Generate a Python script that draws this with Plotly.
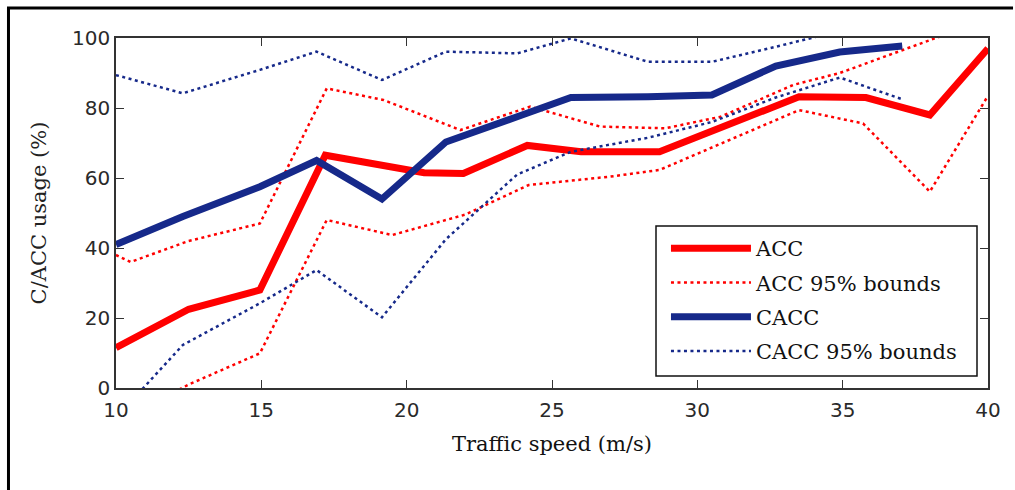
import plotly.graph_objects as go

# ACC: mean usage and 95% bounds per traffic speed bin
acc_speed = [10, 12.5, 14.95, 17.2, 20.6, 21.95, 24.15, 26.0, 28.7, 33.5, 35.8, 38.0, 40.0]
acc_mean = [11.5, 22.5, 28.0, 66.5, 61.5, 61.3, 69.3, 67.5, 67.5, 83.2, 83.0, 78.0, 97.0]

acc_upper_speed = [10, 10.5, 12.5, 14.95, 17.25, 19.2, 21.85, 24.25, 26.65, 28.9, 30.8, 33.3, 34.9, 38.2, 40.0]
acc_upper = [38.0, 36.0, 42.0, 47.0, 85.6, 82.3, 73.7, 80.4, 74.7, 74.2, 77.5, 86.6, 90.0, 100.0, 105.0]

acc_lower_speed = [10, 12.5, 14.95, 17.25, 19.5, 22.0, 24.2, 27.0, 28.7, 33.5, 35.7, 38.0, 40.0]
acc_lower = [-10.0, 1.0, 9.9, 48.0, 43.7, 49.5, 58.0, 60.4, 62.3, 79.4, 75.6, 56.1, 83.5]

# CACC: mean usage and 95% bounds
cacc_speed = [10, 12.3, 14.95, 16.9, 19.15, 21.35, 23.8, 25.65, 28.3, 30.5, 32.7, 34.9, 37.05]
cacc_mean = [41.0, 49.0, 57.5, 65.0, 54.0, 70.3, 77.5, 83.0, 83.2, 83.7, 92.0, 96.0, 97.7]
cacc_upper = [89.4, 84.2, 90.9, 96.1, 88.0, 96.1, 95.6, 99.9, 93.2, 93.2, 97.5, 102.0, 106.0]
cacc_lower = [-8.5, 12.3, 24.2, 33.7, 20.2, 42.5, 61.0, 67.5, 71.5, 76.0, 83.0, 88.7, 82.5]

x_ticks = [10, 15, 20, 25, 30, 35, 40]
y_ticks = [0, 20, 40, 60, 80, 100]

RED = "#FF0000"
BLUE = "#16298A"
DOT = "3px,3.5px"

fig = go.Figure()
fig.add_trace(go.Scatter(x=acc_speed, y=acc_mean, mode="lines", name="ACC",
                         line=dict(color=RED, width=7), legendgroup="a"))
fig.add_trace(go.Scatter(x=acc_upper_speed, y=acc_upper, mode="lines", name="ACC 95% bounds",
                         line=dict(color=RED, width=2.5, dash=DOT), legendgroup="b"))
fig.add_trace(go.Scatter(x=acc_lower_speed, y=acc_lower, mode="lines", name="ACC 95% bounds",
                         line=dict(color=RED, width=2.5, dash=DOT), legendgroup="b",
                         showlegend=False))
fig.add_trace(go.Scatter(x=cacc_speed, y=cacc_mean, mode="lines", name="CACC",
                         line=dict(color=BLUE, width=7), legendgroup="c"))
fig.add_trace(go.Scatter(x=cacc_speed, y=cacc_upper, mode="lines", name="CACC 95% bounds",
                         line=dict(color=BLUE, width=2.5, dash=DOT), legendgroup="d"))
fig.add_trace(go.Scatter(x=cacc_speed, y=cacc_lower, mode="lines", name="CACC 95% bounds",
                         line=dict(color=BLUE, width=2.5, dash=DOT), legendgroup="d",
                         showlegend=False))

axis_common = dict(
    showgrid=False, zeroline=False, showline=True, linecolor="#333333", linewidth=1.5,
    mirror="ticks", ticks="inside", ticklen=8, tickwidth=1.2, tickcolor="#333333",
    tickfont=dict(family="DejaVu Sans", size=20, color="#2a2a2a"),
)

fig.update_layout(
    width=1015, height=490,
    margin=dict(l=116, r=27, t=38, b=102),
    paper_bgcolor="white", plot_bgcolor="white",
    xaxis=dict(range=[10, 40], tickvals=x_ticks, ticklabelstandoff=3,
               title=dict(text="Traffic speed (m/s)", standoff=16,
                          font=dict(family="DejaVu Serif", size=21, color="#111111")),
               **axis_common),
    yaxis=dict(range=[0, 100], tickvals=y_ticks,
               title=dict(text="C/ACC usage (%)", standoff=20,
                          font=dict(family="DejaVu Serif", size=21, color="#222222")),
               **axis_common),
    legend=dict(x=0.6307, y=0.4571, xanchor="left", yanchor="top",
                bgcolor="rgba(0,0,0,0)", borderwidth=0,
                font=dict(family="DejaVu Serif", size=21, color="#111111"),
                itemwidth=80, tracegroupgap=4, traceorder="grouped"),
    showlegend=True,
    shapes=[
        # legend box
        dict(type="rect", xref="paper", yref="paper", layer="above",
             x0=(656 - 116) / 872, x1=(977 - 116) / 872,
             y0=(388 - 376) / 350, y1=(388 - 226) / 350,
             fillcolor="white", line=dict(color="#111111", width=1.5)),
        # frame around the figure (left and top edges)
        dict(type="line", xref="paper", yref="paper", x0=-0.1233, x1=-0.1233, y0=1.0857, y1=-0.30,
             line=dict(color="black", width=3)),
        dict(type="line", xref="paper", yref="paper", x0=-0.125, x1=1.0287, y0=1.0857, y1=1.0857,
             line=dict(color="black", width=3)),
    ],
)

fig.write_html("out.html")
